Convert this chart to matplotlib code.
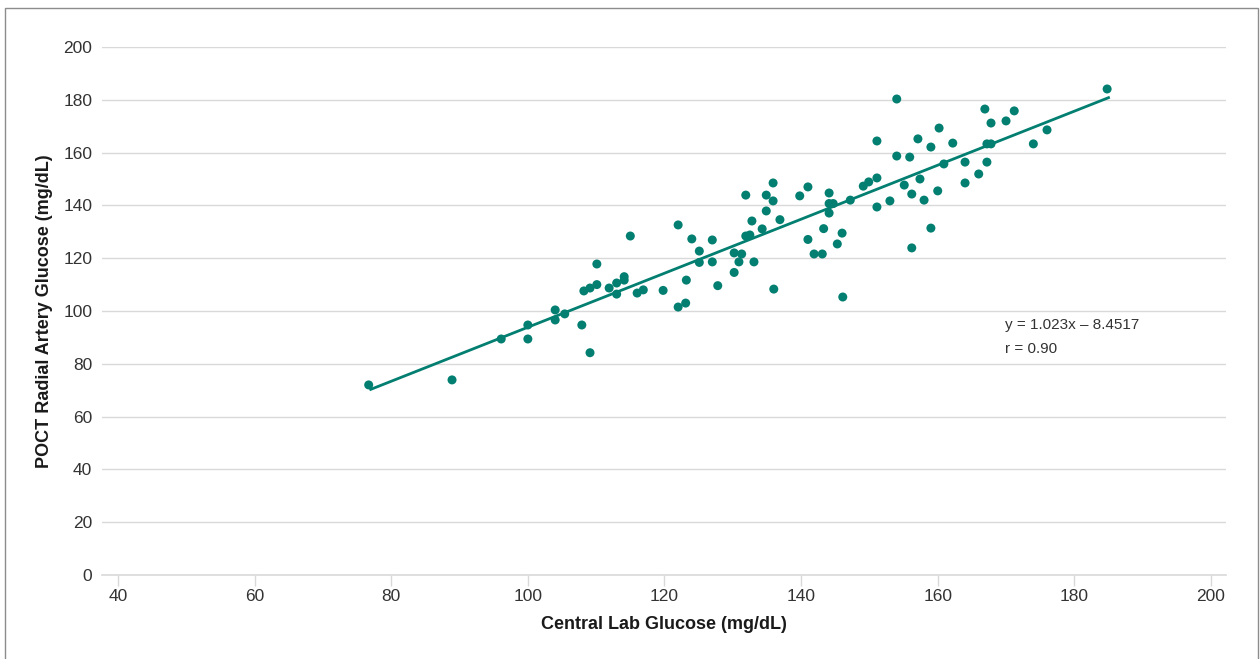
import matplotlib
matplotlib.use('Agg')
import matplotlib.pyplot as plt
from matplotlib.patches import Rectangle

# 数据
central_lab = [76.7, 88.9, 96.1, 100.0, 100.0, 104.0, 104.0, 105.4, 107.9, 109.1,
               108.2, 109.1, 110.1, 110.1, 111.9, 113.0, 113.0, 114.1, 114.1, 115.0,
               116.0, 116.9, 119.8, 122.0, 122.0, 123.1, 123.2, 124.0, 125.1, 125.1,
               127.0, 127.0, 127.8, 130.2, 130.2, 130.9, 131.3, 131.9, 131.9, 132.5,
               132.8, 133.1, 134.3, 134.9, 134.9, 135.9, 135.9, 136.0, 136.9, 139.8,
               141.0, 141.0, 141.9, 143.1, 143.3, 144.1, 144.1, 144.7, 144.1, 145.3,
               146.0, 146.1, 147.2, 149.1, 149.9, 151.1, 151.1, 151.1, 153.0, 154.0,
               154.0, 155.1, 155.9, 156.2, 156.2, 157.1, 157.4, 158.0, 159.0, 159.0,
               160.0, 160.2, 160.9, 162.2, 164.0, 164.0, 166.0, 166.9, 167.2, 167.8,
               167.2, 167.8, 170.0, 171.2, 174.0, 176.0, 184.8]
poct = [72.0, 73.9, 89.4, 94.7, 89.4, 100.4, 96.6, 98.9, 94.7, 84.2,
        107.6, 108.7, 110.0, 117.8, 108.7, 106.4, 110.6, 111.7, 113.0, 128.4,
        106.8, 108.0, 107.8, 132.6, 101.5, 103.0, 111.7, 127.3, 122.7, 118.4,
        126.9, 118.6, 109.6, 114.6, 122.0, 118.6, 121.6, 128.4, 143.9, 128.8,
        134.1, 118.6, 131.1, 137.9, 143.9, 148.5, 141.7, 108.3, 134.6, 143.6,
        147.0, 127.1, 121.6, 121.6, 131.2, 144.7, 140.7, 140.7, 137.1, 125.4,
        129.5, 105.3, 142.0, 147.3, 148.9, 150.4, 164.4, 139.4, 141.7, 180.3,
        158.7, 147.7, 158.3, 144.3, 123.9, 165.2, 150.0, 142.0, 162.1, 131.4,
        145.5, 169.3, 155.7, 163.6, 156.4, 148.5, 151.9, 176.5, 163.3, 163.3,
        156.4, 171.2, 172.0, 175.8, 163.3, 168.6, 184.1]

slope, intercept = 1.023, -8.4517
fit_range = [77, 185]
x_ticks = [40, 60, 80, 100, 120, 140, 160, 180, 200]
y_ticks = [0, 20, 40, 60, 80, 100, 120, 140, 160, 180, 200]

teal = '#037f71'
grid_c = '#d9d9d9'

plt.rcParams['font.family'] = ['Liberation Sans', 'DejaVu Sans']

fig = plt.figure(figsize=(12.6, 6.59), dpi=100)
# 外框
fig.patches.append(Rectangle((5 / 1260, -0.05), 1253 / 1260, 1.05 - 8 / 659,
                             transform=fig.transFigure, fill=False,
                             edgecolor='#8c8c8c', linewidth=1.0))

ax = fig.add_axes([102 / 1260, 84 / 659, 1124 / 1260, 528 / 659])

ax.scatter(central_lab, poct, s=42, color=teal, edgecolors='none', zorder=3)
ax.plot(fit_range, [slope * v + intercept for v in fit_range], color=teal, linewidth=2, zorder=2)

ax.set_xlim(37.66, 202.2)
ax.set_ylim(0, 200)
ax.set_xticks(x_ticks)
ax.set_yticks(y_ticks)

for s in ['top', 'right', 'left']:
    ax.spines[s].set_visible(False)
ax.spines['bottom'].set_color(grid_c)
ax.spines['bottom'].set_linewidth(1.2)

ax.yaxis.grid(True, color=grid_c, linewidth=1.0)
ax.set_axisbelow(True)
ax.tick_params(axis='y', length=0, pad=7, labelsize=12.5, labelcolor='#333333')
ax.tick_params(axis='x', length=8, width=1, color=grid_c, pad=2, labelsize=12.5, labelcolor='#333333')

ax.set_xlabel('Central Lab Glucose (mg/dL)', fontsize=13, fontweight='bold', color='#1a1a1a', labelpad=9)
ax.set_ylabel('POCT Radial Artery Glucose (mg/dL)', fontsize=13, fontweight='bold', color='#1a1a1a', labelpad=7.5)

ax.text(169.9, 94.7, 'y = 1.023x \u2013 8.4517', fontsize=11, color='#333333', va='center')
ax.text(169.9, 85.6, 'r = 0.90', fontsize=11, color='#333333', va='center')

fig.savefig('out.png', dpi=100)
